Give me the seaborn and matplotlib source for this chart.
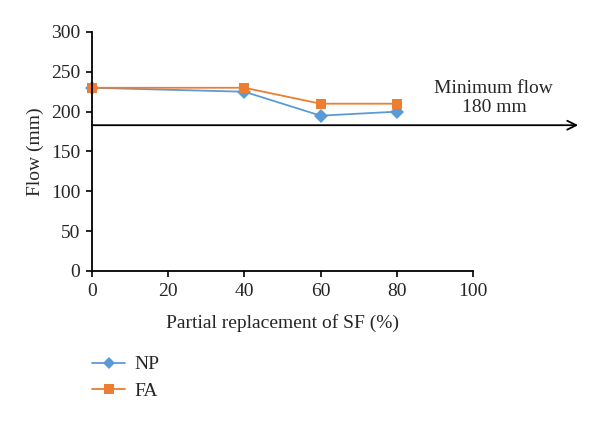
import pandas as pd
import seaborn as sns
import matplotlib.pyplot as plt
from matplotlib.lines import Line2D

replacement = [0, 40, 60, 80]
np_flow = [230, 225, 195, 200]
fa_flow = [230, 230, 210, 210]
min_flow = 183

sns.set_style("ticks")
plt.rcParams['font.family'] = ['Liberation Serif', 'DejaVu Serif']

df = pd.DataFrame({
    'x': replacement * 2,
    'flow': np_flow + fa_flow,
    'series': ['NP'] * 4 + ['FA'] * 4,
})

fig = plt.figure(figsize=(6, 4.21), dpi=100)
ax = fig.add_axes([0.1533, 0.3563, 0.635, 0.5677])

sns.lineplot(data=df, x='x', y='flow', hue='series', style='series',
             palette={'NP': '#5b9bd5', 'FA': '#ed7d31'},
             markers={'NP': 'D', 'FA': 's'}, dashes=False,
             markersize=7, linewidth=1.3, markeredgewidth=0, ax=ax, legend=False)
for ln in ax.lines:
    ln.set_clip_on(False)

ax.set_xlim(0, 100)
ax.set_ylim(0, 300)
ax.set_xticks(range(0, 101, 20))
ax.set_yticks(range(0, 301, 50))
ax.tick_params(labelsize=14, width=1.2, length=4.5, pad=4, color='black')
for s in ['top', 'right']:
    ax.spines[s].set_visible(False)
for s in ['left', 'bottom']:
    ax.spines[s].set_linewidth(1.3)
    ax.spines[s].set_color('black')
ax.set_xlabel('Partial replacement of SF (%)', fontsize=14, labelpad=10)
ax.set_ylabel('Flow (mm)', fontsize=14, labelpad=5)

ax.annotate('', xy=(127.6, min_flow), xytext=(0, min_flow), xycoords='data',
            arrowprops=dict(arrowstyle='->', color='black', lw=1.3,
                            mutation_scale=16, shrinkA=0, shrinkB=0),
            annotation_clip=False)
ax.text(105.5, 217, 'Minimum flow\n180 mm', ha='center', va='center', fontsize=14,
        linespacing=1.2)

handles = [Line2D([], [], color='#5b9bd5', marker='D', markersize=6, lw=1.3, markeredgewidth=0),
           Line2D([], [], color='#ed7d31', marker='s', markersize=7, lw=1.3, markeredgewidth=0)]
fig.legend(handles, ['NP', 'FA'], loc='upper left', bbox_to_anchor=(0.1533, 0.155),
           frameon=False, fontsize=14, handlelength=1.7, handletextpad=0.5,
           labelspacing=0.45, borderpad=0, borderaxespad=0)

fig.savefig('out.png', dpi=100)
